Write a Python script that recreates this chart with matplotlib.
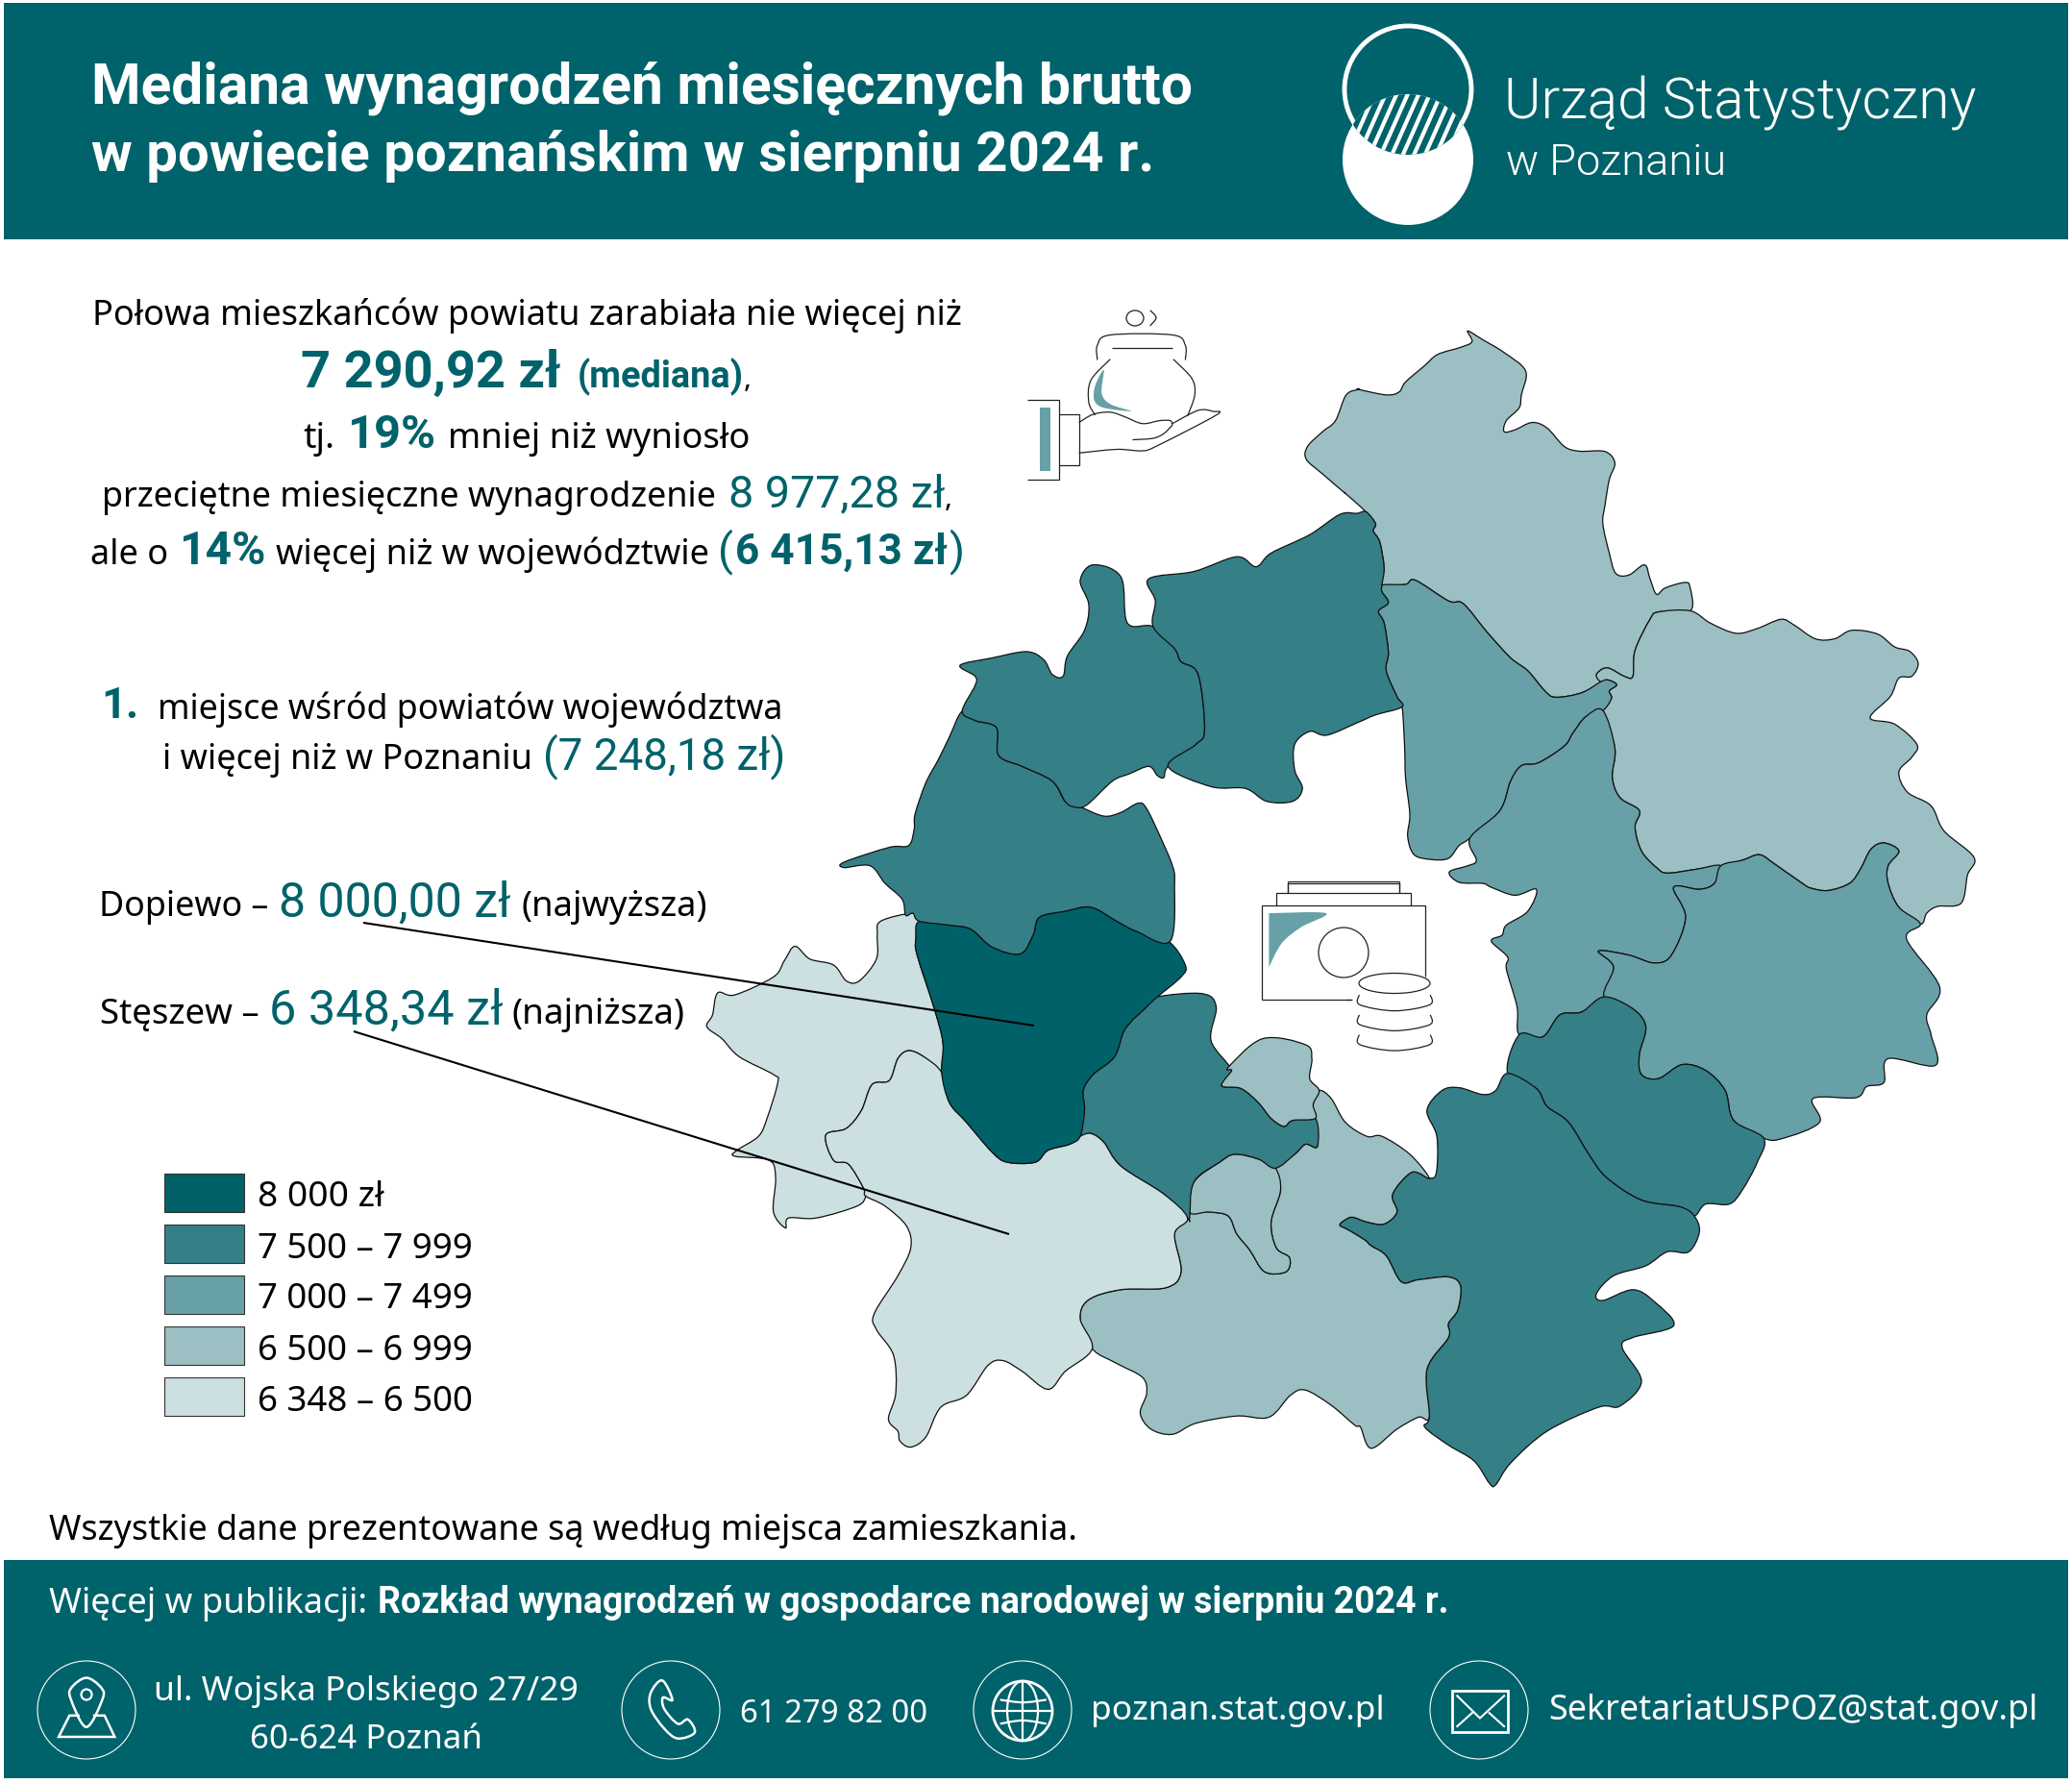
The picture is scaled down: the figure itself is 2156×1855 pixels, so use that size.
import numpy as np
import matplotlib
matplotlib.use('Agg')
import matplotlib.pyplot as plt
from matplotlib.path import Path
from matplotlib.patches import PathPatch, Rectangle, Circle, Ellipse

FONT = 'Noto Sans'
NUM_FONT = 'Roboto'
TEAL = '#00626a'
MID = '#67a0a6'

# legend classes
class_labels = ['8 000 zł', '7 500 – 7 999', '7 000 – 7 499', '6 500 – 6 999', '6 348 – 6 500']
class_colors = ['#006169', '#357f87', '#67a0a6', '#9bbfc2', '#ccdfe1']


def crop(ox, oy, sy):
    def conv(pts):
        a = np.array(pts, dtype=float)
        return np.column_stack([ox + a[:, 0] * 0.4464, oy + a[:, 1] * sy])
    return conv


z1 = crop(720, 320, 0.3827)
z2 = crop(1400, 320, 0.3827)
z3 = crop(720, 920, 0.4145)
z4 = crop(1400, 920, 0.4145)


def z6(pts):
    a = np.array(pts, dtype=float)
    return np.column_stack([a[:, 0] / 1.425, 1680 + a[:, 1] / 2.93])


def z7(pts):
    a = np.array(pts, dtype=float)
    return np.column_stack([1000 + a[:, 0] / 1.352, 1680 + a[:, 1] / 2.93])


murowana = np.vstack([
    z2([(285, 66), (320, 90), (370, 125), (420, 175), (410, 240), (405, 275), (375, 310), (370, 340), (395, 335),
        (435, 315), (470, 330), (510, 380), (545, 393), (605, 394), (628, 425), (615, 470), (605, 540), (600, 590),
        (615, 670), (630, 725), (660, 730), (697, 702), (710, 740), (725, 782), (745, 765), (790, 750), (803, 762),
        (804, 827), (730, 830), (710, 850), (675, 935), (670, 1005), (650, 1005), (610, 982), (585, 1000), (595, 1020),
        (550, 1050), (490, 1062), (465, 1045), (425, 990), (385, 955), (330, 885), (275, 808), (240, 800), (163, 744),
        (140, 755), (85, 757), (90, 710), (80, 640), (65, 610), (70, 590), (48, 558), (0, 508)]),
    z1([(1520, 505), (1470, 455), (1432, 415), (1435, 380), (1470, 340), (1500, 310), (1525, 240), (1555, 225)]),
    z2([(30, 225), (95, 240), (125, 232), (140, 205), (185, 160), (215, 130), (270, 110), (295, 95)]),
])

pobiedziska = np.vstack([
    z2([(804, 827), (850, 860), (910, 888), (960, 875), (1015, 850), (1045, 865), (1095, 903), (1140, 903), (1180, 880),
        (1240, 890), (1280, 925), (1315, 937), (1335, 970), (1320, 1005), (1290, 1010), (1270, 1060), (1223, 1118),
        (1280, 1135), (1332, 1190), (1320, 1225), (1290, 1265), (1310, 1320), (1365, 1357), (1395, 1425), (1465, 1497),
        (1450, 1545)]),
    z4([(1435, 50), (1380, 58), (1355, 75), (1340, 102), (1290, 60), (1265, 0)]),
    z2([(1265, 1520), (1290, 1480), (1255, 1458), (1225, 1475), (1200, 1530)]),
    z4([(1175, 0), (1125, 18), (1085, 12)]),
    z2([(1065, 1568), (1000, 1515), (965, 1490), (925, 1505), (875, 1520), (815, 1530), (750, 1540), (725, 1525),
        (690, 1480), (675, 1415), (685, 1370), (640, 1335), (622, 1280), (628, 1200), (600, 1098), (620, 1065),
        (615, 1045), (632, 1028), (612, 1015), (595, 1020), (585, 1000), (610, 982), (650, 1005), (670, 1005),
        (675, 935), (710, 850), (730, 830)]),
])

czerwonak = z2([(85, 757), (140, 755), (163, 744), (240, 800), (275, 808), (330, 885), (385, 955), (425, 990), (465, 1045),
                (490, 1062), (550, 1050), (595, 1020), (612, 1015), (632, 1028), (615, 1045), (620, 1065), (600, 1098),
                (560, 1115), (530, 1160), (510, 1195), (450, 1240), (410, 1248), (385, 1290), (360, 1370), (290, 1445),
                (265, 1465), (240, 1500), (200, 1503), (160, 1490), (145, 1440), (150, 1380), (140, 1280), (138, 1200),
                (132, 1088), (120, 1060), (95, 990), (100, 940), (90, 860), (77, 828), (100, 805), (85, 775)])

swarzedz = np.vstack([
    z2([(600, 1098), (628, 1200), (622, 1280), (640, 1335), (685, 1370), (675, 1415), (690, 1480), (725, 1525),
        (750, 1540), (815, 1530), (875, 1520), (860, 1568)]),
    z4([(825, 15), (765, 10), (793, 85), (760, 180), (720, 200), (660, 180), (590, 170), (625, 210), (603, 285),
        (550, 323), (500, 330), (460, 385), (405, 380), (400, 310), (375, 215), (378, 185), (340, 145), (365, 130),
        (375, 105), (425, 70), (445, 15), (395, 30), (340, 10)]),
    z2([(320, 1568), (265, 1565), (242, 1537), (285, 1520), (305, 1505), (290, 1445), (360, 1370), (385, 1290),
        (410, 1248), (450, 1240), (510, 1195), (530, 1160), (560, 1115)]),
])

kostrzyn = np.vstack([
    z2([(875, 1520), (925, 1505), (965, 1490), (1000, 1515), (1065, 1568)]),
    z4([(1085, 12), (1125, 18), (1175, 0)]),
    z2([(1200, 1530), (1225, 1475), (1255, 1458), (1290, 1480), (1265, 1520)]),
    z4([(1265, 0), (1290, 60), (1340, 102), (1308, 140), (1385, 260), (1355, 330), (1365, 380), (1375, 457), (1265, 440),
        (1255, 500), (1215, 510), (1190, 538), (1090, 540), (1105, 600), (1020, 640), (975, 640), (905, 595), (885, 520),
        (840, 470), (785, 455), (730, 490), (690, 480), (685, 430), (700, 360), (670, 315), (603, 285), (625, 210),
        (590, 170), (660, 180), (720, 200), (760, 180), (793, 85), (765, 10), (825, 15)]),
    z2([(860, 1568)]),
])

kleszczewo = z4([(405, 380), (460, 385), (500, 330), (550, 323), (603, 285), (670, 315), (700, 360), (685, 430), (690, 480),
                 (730, 490), (785, 455), (840, 470), (885, 520), (905, 595), (975, 640), (960, 700), (925, 770), (895, 805),
                 (840, 805), (813, 835), (780, 812), (690, 795), (610, 740), (570, 685), (520, 600), (470, 560), (445, 515),
                 (378, 477)])

kornik = np.vstack([
    z4([(378, 477), (350, 520), (320, 530), (265, 513), (225, 520), (190, 570), (213, 635), (212, 725), (195, 740),
        (155, 725), (110, 780), (120, 825), (90, 855), (50, 850)]),
    z3([(1540, 838), (1522, 845), (1510, 858), (1530, 870), (1568, 895)]),
    z4([(60, 910), (95, 935), (130, 1000), (170, 995), (240, 988), (268, 1010), (262, 1070), (240, 1105), (240, 1140),
        (190, 1220), (195, 1340), (185, 1365), (240, 1410), (300, 1450), (335, 1505), (350, 1510), (385, 1455), (470, 1375),
        (590, 1315), (640, 1312), (690, 1250), (645, 1165), (670, 1140), (765, 1110), (720, 1050), (670, 1020), (600, 1047),
        (585, 1030), (625, 985), (700, 960), (750, 925), (800, 925), (825, 875), (813, 835), (780, 812), (690, 795),
        (610, 740), (570, 685), (520, 600), (470, 560), (445, 515)]),
])

mosina = np.vstack([
    z3([(1155, 840), (1125, 880), (1140, 975), (1105, 1015), (1000, 1020), (925, 1045), (905, 1093), (933, 1168), (990, 1205),
        (1050, 1240), (1060, 1280), (1045, 1330), (1070, 1370), (1120, 1383), (1175, 1355), (1270, 1337), (1345, 1340),
        (1395, 1285), (1430, 1272), (1490, 1310), (1545, 1360)]),
    z4([(35, 1365), (60, 1418), (120, 1370), (170, 1340), (195, 1340), (190, 1220), (240, 1140), (240, 1105),
        (262, 1070), (268, 1010), (240, 988), (170, 995), (130, 1000), (95, 935), (60, 910)]),
    z3([(1568, 895), (1530, 870), (1510, 858), (1522, 845), (1540, 838)]),
    z4([(50, 850), (90, 855), (120, 825), (110, 780), (155, 725), (195, 740), (150, 680), (85, 635), (50, 635), (0, 600)]),
    z3([(1490, 540), (1462, 520), (1448, 555), (1453, 590), (1458, 660), (1430, 655), (1405, 680), (1360, 715),
        (1372, 770), (1350, 850), (1362, 915), (1393, 940), (1385, 975), (1335, 975), (1300, 920), (1270, 880), (1250, 835),
        (1205, 825), (1160, 825)]),
])

puszczykowo = z3([(1360, 715), (1320, 692), (1265, 680), (1230, 700), (1170, 750), (1160, 825), (1205, 825), (1250, 835),
                  (1270, 880), (1300, 920), (1335, 975), (1385, 975), (1393, 940), (1362, 915), (1350, 850), (1372, 770)])

komorniki = z3([(1085, 285), (1190, 277), (1222, 310), (1210, 395), (1258, 470), (1235, 508), (1280, 515), (1320, 550), (1350, 590),
                (1380, 610), (1400, 595), (1453, 590), (1458, 660), (1430, 655), (1405, 680), (1360, 715), (1320, 692), (1265, 680),
                (1230, 700), (1170, 750), (1160, 840), (1155, 840), (1100, 780), (1000, 710), (960, 650), (930, 628), (905, 635),
                (915, 570), (912, 520), (935, 480), (985, 435), (1010, 365), (1060, 310)])

lubon = z3([(1250, 462), (1330, 390), (1430, 405), (1445, 440), (1440, 490), (1462, 520), (1448, 555), (1453, 590), (1400, 595),
            (1380, 610), (1350, 590), (1320, 550), (1280, 515), (1235, 508), (1258, 470)])

dopiewo = z3([(530, 95), (600, 105), (650, 115), (700, 160), (765, 177), (795, 130), (810, 85), (870, 70), (930, 60), (990, 95),
              (1035, 120), (1110, 145), (1150, 205), (1140, 235), (1085, 285), (1060, 310), (1010, 365), (985, 435), (935, 480),
              (912, 520), (915, 570), (905, 635), (880, 655), (830, 670), (800, 700), (735, 700), (700, 675), (640, 600), (600, 550),
              (582, 475), (585, 400), (565, 315), (525, 180), (522, 140)])

steszew = z3([(582, 475), (540, 435), (505, 420), (480, 440), (460, 495), (420, 505), (395, 570), (360, 615), (312, 632), (330, 695),
              (365, 705), (400, 765), (405, 785), (450, 810), (500, 860), (510, 915), (480, 985), (425, 1080), (430, 1120), (470, 1185),
              (475, 1280), (458, 1345), (480, 1375), (485, 1400), (510, 1415), (545, 1390), (580, 1315), (640, 1285), (690, 1210),
              (725, 1198), (770, 1225), (830, 1270), (870, 1225), (933, 1168), (905, 1093), (925, 1045), (1000, 1020), (1105, 1015),
              (1140, 975), (1125, 880), (1155, 840), (1100, 780), (1000, 710), (960, 650), (930, 628), (905, 635), (880, 655),
              (830, 670), (800, 700), (735, 700), (700, 675), (640, 600), (600, 550)])

buk = z3([(530, 95), (515, 75), (440, 95), (432, 130), (430, 190), (390, 245), (360, 245), (330, 205), (275, 190), (240, 158), (215, 195),
          (190, 235), (100, 280), (60, 275), (48, 330), (35, 360), (70, 390), (110, 435), (190, 480), (200, 500), (175, 590), (155, 635),
          (105, 670), (100, 685), (180, 695), (195, 740), (190, 825), (218, 865), (225, 840), (290, 840), (385, 810), (405, 785), (400, 765),
          (365, 705), (330, 695), (312, 632), (360, 615), (395, 570), (420, 505), (460, 495), (480, 440), (505, 420), (540, 435), (582, 475),
          (585, 400), (565, 315), (525, 180), (522, 140)])

tarnowo = np.vstack([
    z1([(630, 1100), (660, 1125), (710, 1145), (715, 1220), (770, 1250), (840, 1290), (870, 1345), (905, 1360), (960, 1385), (1000, 1375),
        (1040, 1350), (1060, 1365), (1095, 1450), (1120, 1520)]),
    z3([(1125, 0), (1115, 145), (1035, 120), (990, 95), (930, 60), (870, 70), (810, 85), (795, 130), (765, 177), (700, 160), (650, 115),
        (600, 105), (530, 95), (515, 75), (498, 80), (490, 40), (450, 0)]),
    z1([(415, 1520), (355, 1525), (355, 1510), (460, 1470), (505, 1465), (518, 1420), (520, 1380), (545, 1295), (575, 1230), (600, 1170)]),
])

rokietnica = z1([(630, 1100), (660, 1030), (660, 1005), (625, 975), (700, 955), (780, 938), (820, 960), (840, 1000), (865, 1005), (875, 950),
                 (915, 880), (925, 810), (905, 745), (935, 702), (1000, 735), (1015, 860), (1075, 870), (1125, 930), (1140, 965), (1180, 1000),
                 (1195, 1150), (1175, 1190), (1110, 1250), (1100, 1280), (1085, 1275), (1065, 1250), (1020, 1270), (980, 1290), (920, 1355),
                 (890, 1360), (870, 1345), (840, 1290), (770, 1250), (715, 1220), (710, 1145), (660, 1125)])

suchy_las = np.vstack([
    z1([(1075, 870), (1080, 800), (1065, 740), (1170, 720), (1270, 680), (1315, 707), (1350, 670), (1440, 620), (1510, 565), (1550, 562)]),
    z2([(48, 558), (70, 590), (65, 610), (80, 640), (90, 710), (85, 757), (85, 775), (100, 805), (77, 828), (90, 860), (100, 940), (95, 990),
        (120, 1060), (132, 1088), (70, 1110), (30, 1130)]),
    z1([(1480, 1165), (1440, 1155), (1405, 1190), (1405, 1260), (1423, 1310), (1400, 1345), (1340, 1345), (1290, 1310),
        (1210, 1305), (1110, 1250), (1175, 1190), (1195, 1150), (1180, 1000), (1140, 965), (1125, 930)]),
])

# outline, class index in the legend
gminy = [
    (murowana, 3), (pobiedziska, 3), (czerwonak, 2), (swarzedz, 2), (kostrzyn, 2), (kleszczewo, 1), (kornik, 1),
    (mosina, 3), (puszczykowo, 3), (komorniki, 1), (lubon, 3), (buk, 4), (steszew, 4), (dopiewo, 0),
    (tarnowo, 1), (rokietnica, 1), (suchy_las, 1),
]


def spline(pts, closed=True):
    # Catmull-Rom through the traced points, written as bezier segments
    p = np.asarray(pts, dtype=float)
    n = len(p)
    verts = [p[0]]
    codes = [Path.MOVETO]
    for i in range(n if closed else n - 1):
        if closed:
            p0, p1, p2, p3 = p[i - 1], p[i], p[(i + 1) % n], p[(i + 2) % n]
        else:
            p0, p1, p2, p3 = p[max(i - 1, 0)], p[i], p[i + 1], p[min(i + 2, n - 1)]
        verts += [p1 + (p2 - p0) / 6, p2 - (p3 - p1) / 6, p2]
        codes += [Path.CURVE4] * 3
    return Path(verts, codes)


fig = plt.figure(figsize=(21.56, 18.56), dpi=100)
ax = fig.add_axes([0, 0, 1, 1])
ax.set_xlim(0, 2156)
ax.set_ylim(1856, 0)
ax.axis('off')
renderer = fig.canvas.get_renderer()


def fit(x0, x1, y, s, color='black', weight='normal', family=FONT):
    t = ax.text(x0, y, s, fontsize=30, color=color, fontweight=weight, family=family, va='baseline', ha='left')
    w = t.get_window_extent(renderer).width
    t.set_fontsize(30 * (x1 - x0) / w)
    return t


def bold(x0, x1, y, s, color=TEAL):
    return fit(x0, x1, y, s, color, 'bold', NUM_FONT)


def value(x0, x1, y, s):
    return fit(x0, x1, y, s, TEAL, 'normal', NUM_FONT)


def curve(pts, lw=1.0, color='#222222', closed=False, face='none', zorder=5):
    ax.add_patch(PathPatch(spline(pts, closed), fc=face, ec=color, lw=lw, zorder=zorder))


def poly(pts, lw=1.0, color='#222222', closed=False, face='none', zorder=5):
    ax.add_patch(PathPatch(Path(np.asarray(pts, dtype=float), closed=False) if not closed
                           else Path(np.vstack([pts, pts[:1]]), closed=True),
                           fc=face, ec=color, lw=lw, zorder=zorder, joinstyle='miter'))


# bands
ax.add_patch(Rectangle((4, 4), 2148, 246, fc=TEAL, ec='none'))
ax.add_patch(Rectangle((4, 1624), 2148, 227, fc=TEAL, ec='none'))

# map
for outline, k in gminy:
    ax.add_patch(PathPatch(spline(outline), fc=class_colors[k], ec='#111111', lw=0.9, zorder=2))

# leaders
ax.plot([378, 1076], [961, 1068], color='black', lw=1.5, zorder=6, solid_capstyle='butt')
ax.plot([368, 1050], [1074, 1285], color='black', lw=1.5, zorder=6, solid_capstyle='butt')

# title
bold(95, 1240, 107, 'Mediana wynagrodzeń miesięcznych brutto', 'white')
bold(95, 1200, 178, 'w powiecie poznańskim w sierpniu 2024 r.', 'white')

# logo
lx, r = 1465, 68
ax.add_patch(Circle((lx, 167), r, fc='white', ec='none', zorder=3))
ax.add_patch(Circle((lx, 94), r - 2, fc='none', ec='white', lw=3.5, zorder=3))
th = np.linspace(0, 2 * np.pi, 200)
top = np.column_stack([lx + r * np.cos(th), 94 + r * np.sin(th)])
bot = np.column_stack([lx + r * np.cos(th), 167 + r * np.sin(th)])
lens_all = np.vstack([top[np.hypot(top[:, 0] - lx, top[:, 1] - 167) <= r], bot[np.hypot(bot[:, 0] - lx, bot[:, 1] - 94) <= r]])
lens_all = lens_all[np.argsort(np.arctan2(lens_all[:, 1] - 130.5, lens_all[:, 0] - lx))]
lens = Path(np.vstack([lens_all, lens_all[:1]]), closed=True)
ax.add_patch(PathPatch(lens, fc=TEAL, ec='none', zorder=4))
for sx in np.arange(1385, 1560, 11.5):
    ln, = ax.plot([sx, sx + 40], [175, 85], color='white', lw=3.0, zorder=5)
    ln.set_clip_path(PathPatch(lens, transform=ax.transData))
fit(1565, 2056, 124, 'Urząd Statystyczny', 'white', 300, NUM_FONT)
fit(1567, 1796, 182, 'w Poznaniu', 'white', 300, NUM_FONT)

# headline text
fit(96, 1001, 338, 'Połowa mieszkańców powiatu zarabiała nie więcej niż')
bold(313, 584, 403, '7 290,92 zł')
bold(601, 774, 403, '(mediana)')
fit(774, 782, 403, ',')
fit(315, 348, 466, 'tj.')
bold(362, 454, 466, '19%')
fit(466, 780, 466, 'mniej niż wyniosło')
fit(106, 744, 527, 'przeciętne miesięczne wynagrodzenie')
value(758, 983, 527, '8 977,28 zł')
fit(983, 991, 527, ',')
fit(94, 175, 587, 'ale o')
bold(186, 276, 587, '14%')
fit(287, 738, 587, 'więcej niż w województwie')
value(747, 763, 587, '(')
bold(765, 986, 587, '6 415,13 zł')
value(987, 1003, 587, ')')

bold(105, 144, 747, '1.')
fit(164, 814, 748, 'miejsce wśród powiatów województwa')
fit(169, 554, 800, 'i więcej niż w Poznaniu')
value(565, 817, 800, '(7 248,18 zł)')

fit(103, 279, 953, 'Dopiewo –')
value(290, 531, 953, '8 000,00 zł')
fit(542, 736, 953, '(najwyższa)')
fit(104, 270, 1065, 'Stęszew –')
value(280, 523, 1065, '6 348,34 zł')
fit(532, 712, 1065, '(najniższa)')

# legend
leg_top = [1222, 1275, 1328, 1381, 1434]
leg_base = [1255, 1309, 1361, 1415, 1468]
for i, lab in enumerate(class_labels):
    ax.add_patch(Rectangle((171, leg_top[i]), 83, 40, fc=class_colors[i], ec='#333333', lw=0.8))
    fit(268, 399 if i == 0 else 492, leg_base[i], lab)

fit(51, 1121, 1602, 'Wszystkie dane prezentowane są według miejsca zamieszkania.')

# footer
fit(51, 382, 1678, 'Więcej w publikacji:', 'white')
bold(393, 1507, 1678, 'Rozkład wynagrodzeń w gospodarce narodowej w sierpniu 2024 r.', 'white')
fit(160, 601, 1769, 'ul. Wojska Polskiego 27/29', 'white')
fit(260, 502, 1819, '60-624 Poznań', 'white')
fit(770, 965, 1792, '61 279 82 00', 'white')
fit(1135, 1440, 1789, 'poznan.stat.gov.pl', 'white')
fit(1611, 2119, 1789, 'SekretariatUSPOZ@stat.gov.pl', 'white')

for cx in [90, 698, 1064, 1539]:
    ax.add_patch(Circle((cx, 1780), 51, fc='none', ec='white', lw=0.8, zorder=3))

# pin icon
curve(z6([(128, 195), (150, 225), (152, 260), (128, 345), (105, 260), (106, 225)]), 1.8, 'white', True)
ax.add_patch(Circle((90, 1764), 5.5, fc='none', ec='white', lw=1.6))
poly(z6([(118, 310), (103, 310), (87, 375), (170, 375), (155, 310), (138, 310)]), 1.8, 'white')
# phone icon
curve(z6([(982, 203), (965, 240), (965, 290), (985, 350), (1005, 380), (1030, 362), (1020, 322), (1005, 335), (985, 290),
          (983, 255), (997, 262)]), 1.8, 'white', True)
# globe icon
ax.add_patch(Circle((1064, 1781), 31, fc='none', ec='white', lw=2))
ax.add_patch(Ellipse((1064, 1781), 32, 62, fc='none', ec='white', lw=1.6))
ax.plot([1064, 1064], [1750, 1812], color='white', lw=1.6)
ax.plot([1034, 1094], [1781, 1781], color='white', lw=1.6)
curve(z7([(55, 262), (87, 270), (120, 262)]), 1.6, 'white')
curve(z7([(55, 335), (87, 325), (120, 335)]), 1.6, 'white')
# mail icon
ax.add_patch(Rectangle((1511, 1760), 58, 43, fc='none', ec='white', lw=2))
poly(z7([(697, 248), (730, 318), (765, 248)]), 1.5, 'white')
poly(z7([(697, 345), (720, 300)]), 1.5, 'white')
poly(z7([(765, 345), (742, 300)]), 1.5, 'white')

# purse in a hand
poly(z1([(782, 253), (855, 253), (855, 470), (782, 470)]), 0.9)
poly(z1([(855, 293), (902, 293), (902, 432), (855, 432)]), 0.9)
poly(z1([(811, 275), (835, 275), (835, 447), (811, 447)]), 0, MID, True, MID)
curve(z1([(902, 315), (935, 293), (975, 287), (1010, 300), (1050, 318), (1090, 310), (1115, 310), (1120, 322)]), 0.9)
curve(z1([(1120, 318), (1180, 282), (1215, 285), (1222, 295), (1085, 378), (1050, 392), (990, 388), (902, 398)]), 0.9)
curve(z1([(1120, 322), (1100, 345), (1075, 358), (1027, 362)]), 0.9)
curve(z1([(975, 143), (930, 200), (925, 260), (940, 295)]), 0.9)
curve(z1([(1122, 143), (1165, 195), (1172, 240), (1155, 298)]), 0.9)
curve(z1([(945, 145), (945, 105), (975, 77), (1120, 77), (1150, 105), (1150, 145)]), 0.9)
poly(z1([(978, 113), (1120, 113)]), 0.9)
curve(z1([(960, 172), (940, 215), (938, 255), (960, 275), (1023, 284), (975, 265), (955, 235)]), 0, MID, True, MID)
ax.add_patch(Ellipse((1181, 332), 18, 16, fc='none', ec='#222222', lw=0.9))
curve(z1([(1068, 10), (1082, 30), (1068, 52)]), 0.9)

# banknotes and coins
poly(np.vstack([z3([(1328, 292), (1328, 55)]), z4([(187, 55), (187, 235)])]), 0.9)
poly(np.vstack([z3([(1328, 292), (1537, 292)])]), 0.9)
poly(z4([(0, 292), (15, 292)]), 0.9)
poly(np.vstack([z3([(1362, 55), (1362, 25)]), z4([(153, 25), (153, 55)])]), 0.9)
poly(np.vstack([z3([(1388, 25), (1388, 0)]), z4([(125, 0), (125, 25)])]), 0.9)
poly([(1340, 918), (1456, 918)], 0.9)
poly([(1340, 918), (1340, 930)], 0.9)
poly([(1456, 918), (1456, 930)], 0.9)
curve(z3([(1345, 75), (1478, 75), (1420, 110), (1375, 150), (1345, 210)]), 0, MID, False, MID)
ax.add_patch(Circle((1398, 992), 26, fc='white', ec='#222222', lw=0.9, zorder=5))
ax.add_patch(Ellipse((1451, 1024), 74, 21, fc='white', ec='#222222', lw=0.9, zorder=6))
for dy in [0, 50, 100]:
    curve(z4([(32, 280 + dy), (34, 305 + dy), (115, 320 + dy), (196, 305 + dy), (198, 280 + dy)]), 0.9, zorder=6)

plt.savefig('out.png', dpi=100, facecolor='white')
